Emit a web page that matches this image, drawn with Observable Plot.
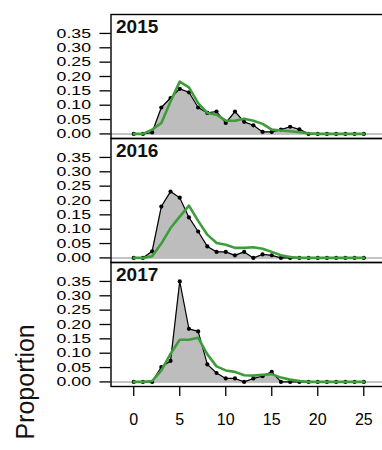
<!DOCTYPE html>
<html>
<head>
<meta charset="utf-8">
<script src="https://cdn.jsdelivr.net/npm/d3@7"></script>
<script src="https://cdn.jsdelivr.net/npm/@observablehq/plot@0.6"></script>
<style>
html, body { margin: 0; padding: 0; overflow: hidden; background: #fff; }
#chart { width: 386px; }
</style>
</head>
<body>
<div id="chart"></div>
<script>
const years = [2015, 2016, 2017];
const ages = [0,1,2,3,4,5,6,7,8,9,10,11,12,13,14,15,16,17,18,19,20,21,22,23,24,25];
const obs2015 = [0,0,0.005,0.092,0.125,0.157,0.145,0.092,0.073,0.078,0.038,0.078,0.042,0.030,0.007,0.007,0.015,0.025,0.016,0,0,0,0,0,0,0];
const exp2015 = [0,0,0.015,0.038,0.113,0.182,0.162,0.107,0.073,0.067,0.046,0.046,0.053,0.046,0.035,0.015,0.012,0.009,0.006,0.002,0,0,0,0,0,0];
const obs2016 = [0,0,0.023,0.179,0.231,0.210,0.141,0.092,0.040,0.021,0.021,0.009,0.021,0,0.012,0.009,0,0,0,0,0,0,0,0,0,0];
const exp2016 = [0,0,0.006,0.050,0.104,0.144,0.182,0.129,0.081,0.052,0.046,0.035,0.035,0.037,0.032,0.021,0.009,0.003,0,0,0,0,0,0,0,0];
const obs2017 = [0,0,0,0.052,0.073,0.350,0.185,0.176,0.061,0.031,0.012,0.012,0,0.012,0.020,0.035,0,0,0,0,0,0,0,0,0,0];
const exp2017 = [0,0,0.003,0.040,0.098,0.147,0.147,0.154,0.096,0.054,0.040,0.035,0.023,0.022,0.025,0.027,0.015,0.008,0.003,0,0,0,0,0,0,0];
const yTicks = [0, 0.05, 0.10, 0.15, 0.20, 0.25, 0.30, 0.35];
const xTicks = [0, 5, 10, 15, 20, 25];
const yLabel = "Proportion";

const obsByYear = {2015: obs2015, 2016: obs2016, 2017: obs2017};
const expByYear = {2015: exp2015, 2016: exp2016, 2017: exp2017};
const obs = years.flatMap(y => ages.map((a, i) => ({year: y, age: a, value: obsByYear[y][i]})));
const exp = years.flatMap(y => ages.map((a, i) => ({year: y, age: a, value: expByYear[y][i]})));
const yearRows = years.map(y => ({year: y, label: String(y)}));

const green = "#3d9d3a";

const plot = Plot.plot({
  width: 386,
  height: 450,
  marginLeft: 110.5,
  marginRight: 0,
  marginTop: 12.6,
  marginBottom: 63.4,
  style: {fontFamily: "'Liberation Sans', Arial, sans-serif", color: "#000", background: "#fff"},
  x: {domain: [-2.47, 27.47]},
  y: {domain: [-0.016, 0.416]},
  fy: {domain: years, padding: 0, axis: null},
  marks: [
    Plot.areaY(obs, {x: "age", y: "value", fy: "year", fill: "#bdbdbd"}),
    Plot.ruleY([0], {stroke: "#b0b0b0", strokeWidth: 1.5}),
    Plot.line(obs, {x: "age", y: "value", fy: "year", stroke: "#000", strokeWidth: 1.2}),
    Plot.dot(obs, {x: "age", y: "value", fy: "year", r: 2.1, fill: "#000"}),
    Plot.line(exp, {x: "age", y: "value", fy: "year", stroke: green, strokeWidth: 2.6}),
    Plot.frame({stroke: "#000", strokeWidth: 1.4}),
    Plot.text(yearRows, {fy: "year", text: "label", frameAnchor: "top-left", dx: 5, dy: 4.6, lineAnchor: "top", fontSize: 19, fontWeight: "bold", fill: "#111"}),
    Plot.axisY({ticks: yTicks, tickFormat: d3.format(".2f"), tickSize: 11, tickPadding: 9, fontSize: 13, label: null, strokeWidth: 1.3}),
    Plot.axisX({ticks: xTicks, tickSize: 10, tickPadding: 17, fontSize: 16, label: null, strokeWidth: 1.3}),
    Plot.text([{year: 2017, label: yLabel}], {fy: "year", y: () => 0, text: "label", frameAnchor: "left", dx: -77.5, rotate: -90, textAnchor: "middle", lineAnchor: "bottom", fontSize: 25, fill: "#111"})
  ]
});
document.getElementById("chart").appendChild(plot);

// widen the y tick labels horizontally, as in the reference
d3.select(plot).selectAll('[aria-label="y-axis tick label"] text').each(function() {
  const t = d3.select(this);
  const tr = t.attr("transform");
  if (tr) {
    t.attr("transform", tr + " scale(1.36,1)");
  } else {
    const x = +t.attr("x") || 0, y = +t.attr("y") || 0;
    t.attr("x", null).attr("y", null).attr("transform", `translate(${x},${y}) scale(1.36,1)`);
  }
});
</script>
</body>
</html>
